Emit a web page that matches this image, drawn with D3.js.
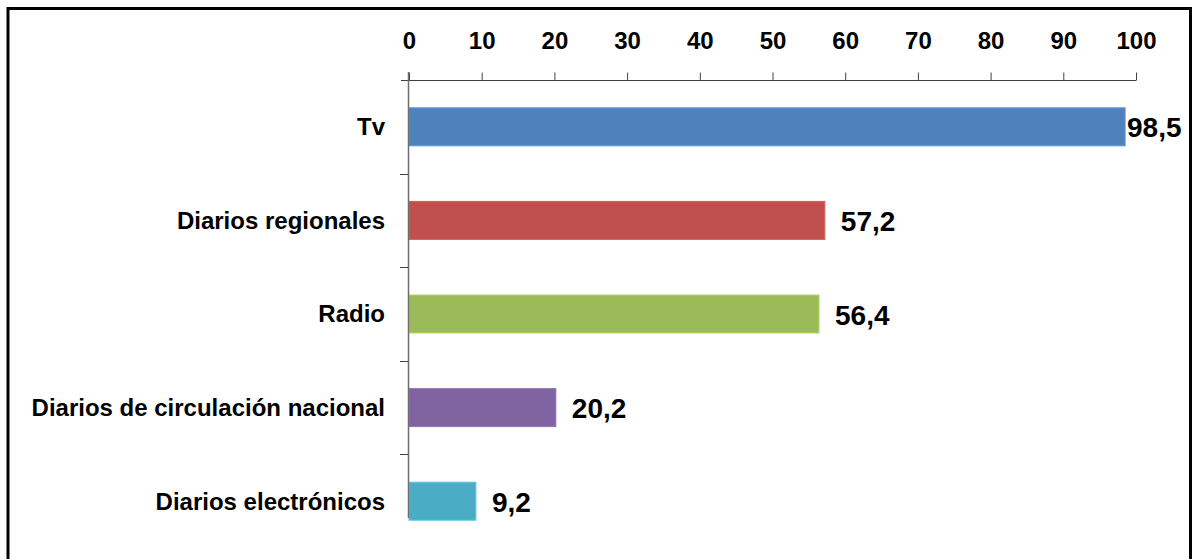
<!DOCTYPE html>
<html>
<head>
<meta charset="utf-8">
<script src="https://cdn.jsdelivr.net/npm/d3@7"></script>
<style>
  body { margin: 0; background: #fff; }
  svg { display: block; font-family: Arial, "Liberation Sans", sans-serif; }
</style>
</head>
<body>
<svg id="chart" width="1193" height="559"></svg>
<script>
// data
const categories = ['Tv', 'Diarios regionales', 'Radio', 'Diarios de circulación nacional', 'Diarios electrónicos']
const values = [98.5, 57.2, 56.4, 20.2, 9.2]
const colors = ['#4f81bd', '#c0504d', '#9bbb59', '#8064a2', '#4bacc6']
const xTicks = [0, 10, 20, 30, 40, 50, 60, 70, 80, 90, 100]

const svg = d3.select('#chart')
const width = 1193, height = 559

// frame round the chart (bottom edge falls off the picture)
svg.append('path')
    .attr('d', `M8,${height + 5} V8.5 H1190.5 V${height + 5}`)
    .attr('fill', 'none')
    .attr('stroke', '#000')
    .attr('stroke-width', 3)

const x = d3.scaleLinear().domain([0, 100]).range([409, 1136])
const y = d3.scaleBand().domain(categories).range([80, 548]).paddingInner(0.594).paddingOuter(0.297)

const data = categories.map((c, i) => ({ cat: c, val: values[i], color: colors[i] }))

// X AXIS (top)
const xAxis = svg.append('g')
    .attr('transform', 'translate(0, 80.5)')
    .call(d3.axisTop(x).tickValues(xTicks).tickSize(8).tickSizeOuter(0).tickPadding(24))
xAxis.select('.domain').attr('stroke', '#404040').attr('d', `M401,0H${x(100)}`)
xAxis.selectAll('.tick line').attr('stroke', '#404040')
xAxis.selectAll('text')
    .attr('fill', '#000')
    .style('font-size', '24px')
    .style('font-weight', 'bold')
    .style('font-family', 'Arial, "Liberation Sans", sans-serif')

// BARS
svg.append('g').selectAll('rect').data(data)
    .join('rect')
    .attr('x', x(0))
    .attr('y', d => y(d.cat))
    .attr('width', d => x(d.val) - x(0))
    .attr('height', y.bandwidth())
    .attr('fill', d => d.color)
    .attr('stroke', d => d3.color(d.color).brighter(0.4))
    .attr('stroke-width', 1)

// Y AXIS
const step = y.step()
const bounds = categories.slice(1).map(c => y(c) - step * y.paddingInner() / 2)
const yAxis = svg.append('g')
yAxis.append('line')
    .attr('x1', 408.5).attr('x2', 408.5)
    .attr('y1', 72).attr('y2', 518)
    .attr('stroke', '#6e6e6e').attr('stroke-width', 1.5)
yAxis.selectAll('.ytick').data(bounds)
    .join('line')
    .attr('class', 'ytick')
    .attr('x1', 400).attr('x2', 408)
    .attr('y1', d => Math.round(d) + 0.5).attr('y2', d => Math.round(d) + 0.5)
    .attr('stroke', '#404040')

// category labels
svg.append('g').selectAll('text').data(data)
    .join('text')
    .attr('x', 385)
    .attr('y', d => y(d.cat) + y.bandwidth() / 2)
    .attr('dy', '0.35em')
    .attr('text-anchor', 'end')
    .style('font-size', '24px')
    .style('font-weight', 'bold')
    .text(d => d.cat)

// value labels
svg.append('g').selectAll('text').data(data)
    .join('text')
    .attr('x', d => Math.min(x(d.val) + 16, x(100) - 9))
    .attr('y', d => y(d.cat) + y.bandwidth() / 2)
    .attr('dy', '0.38em')
    .style('font-size', '28px')
    .style('font-weight', 'bold')
    .text(d => String(d.val).replace('.', ','))
</script>
</body>
</html>
